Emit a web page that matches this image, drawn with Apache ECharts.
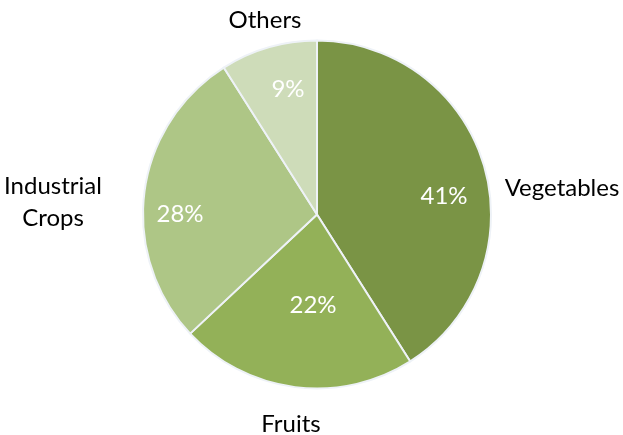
<!DOCTYPE html>
<html>
<head>
<meta charset="utf-8">
<script src="https://cdn.jsdelivr.net/npm/echarts@6/dist/echarts.min.js"></script>
<style>
html,body{margin:0;padding:0;background:#fff;}
#chart{width:623px;height:435px;}
</style>
</head>
<body>
<div id="chart"></div>
<script>
const categories = ['Vegetables', 'Fruits', 'Industrial\nCrops', 'Others'];
const values = [41, 22, 28, 9];
const colors = ['#7A9445', '#93B158', '#AEC686', '#CEDCB9'];

// label anchor positions (styling only)
const nameLabelPos = [[562, 188], [291, 424], [53, 202], [265, 20]];
const pctLabelPos = [[444, 196], [313, 305], [180, 214], [288, 89]];

const data = categories.map((c, i) => ({ name: c, value: values[i], itemStyle: { color: colors[i] } }));
const total = values.reduce((a, b) => a + b, 0);

const chart = echarts.init(document.getElementById('chart'), null, { renderer: 'canvas' });
const font = 'Lato, "Open Sans", sans-serif';
chart.setOption({
  animation: false,
  series: [
    {
      type: 'pie',
      center: [317, 214.5],
      radius: [0, 174],
      startAngle: 90,
      clockwise: true,
      data: data,
      itemStyle: { borderColor: '#eef2f7', borderWidth: 2 },
      label: {
        show: true,
        formatter: '{b}',
        color: '#000',
        fontFamily: font,
        fontSize: 24,
        lineHeight: 32,
        overflow: 'none'
      },
      labelLine: { show: false },
      labelLayout: function (p) {
        const pos = nameLabelPos[p.dataIndex];
        return { x: pos[0], y: pos[1], align: 'center', verticalAlign: 'middle' };
      },
      emphasis: { disabled: true }
    },
    {
      type: 'pie',
      center: [317, 214.5],
      radius: [0, 174],
      startAngle: 90,
      clockwise: true,
      silent: true,
      data: data.map(d => ({ name: d.name, value: d.value, itemStyle: { color: 'rgba(0,0,0,0)' } })),
      itemStyle: { borderWidth: 0 },
      label: {
        show: true,
        position: 'inside',
        formatter: p => Math.round(p.value / total * 100) + '%',
        color: '#fff',
        fontFamily: font,
        fontSize: 24,
        overflow: 'none'
      },
      labelLine: { show: false },
      labelLayout: function (p) {
        const pos = pctLabelPos[p.dataIndex];
        return { x: pos[0], y: pos[1], align: 'center', verticalAlign: 'middle' };
      },
      emphasis: { disabled: true }
    }
  ]
});
</script>
</body>
</html>
